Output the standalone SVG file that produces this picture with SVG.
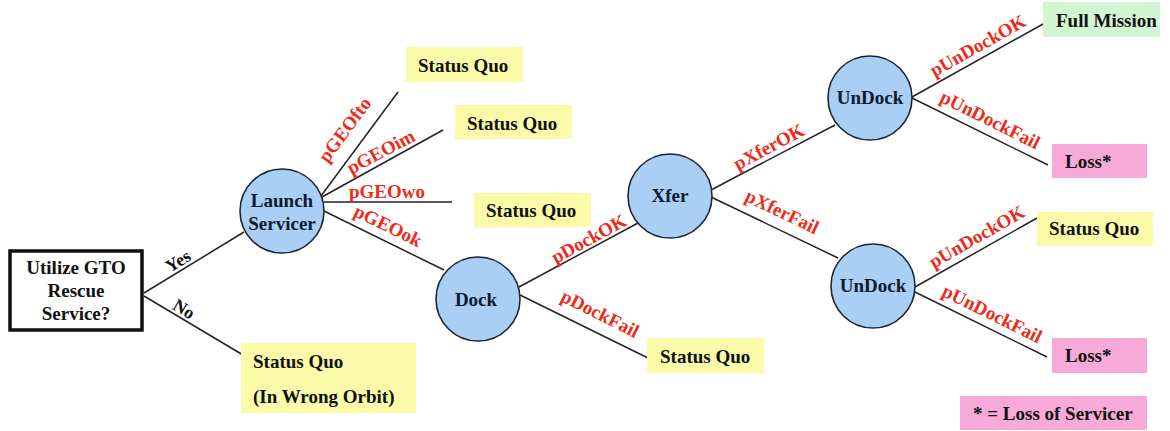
<svg xmlns="http://www.w3.org/2000/svg" width="1170" height="431" viewBox="0 0 1170 431">
<style>
text{font-family:"Liberation Serif","Times New Roman",serif;font-weight:bold;}
.t{font-size:19px;fill:#111;}
.n{font-size:19px;fill:#0d1a30;text-anchor:middle;}
.lbl{font-size:19px;fill:#ee2a1a;text-anchor:middle;}
.blk{font-size:18px;fill:#111;text-anchor:middle;}
.c{fill:#a9cff5;stroke:#1c2633;stroke-width:1.6;}
.y{fill:#fafaa8;}
.g{fill:#d2f5d2;}
.p{fill:#f7aad8;}
.e{stroke:#222;stroke-width:1.5;fill:none;}
</style>
<rect width="1170" height="431" fill="#fff"/>
<g id="connectors">
<line class="e" x1="144" y1="293" x2="244" y2="232"/>
<line class="e" x1="144" y1="296" x2="243" y2="355"/>
<line class="e" x1="321" y1="196" x2="398" y2="92"/>
<line class="e" x1="322" y1="197" x2="443" y2="130"/>
<line class="e" x1="324" y1="202" x2="452" y2="202"/>
<line class="e" x1="324" y1="211" x2="444" y2="270"/>
<line class="e" x1="519" y1="287" x2="638" y2="223"/>
<line class="e" x1="520" y1="295" x2="648" y2="358"/>
<line class="e" x1="711" y1="190" x2="835" y2="125"/>
<line class="e" x1="711" y1="197" x2="838" y2="258"/>
<line class="e" x1="912" y1="97" x2="1043" y2="24"/>
<line class="e" x1="912" y1="98" x2="1048" y2="165"/>
<line class="e" x1="915" y1="287" x2="1037" y2="218"/>
<line class="e" x1="915" y1="292" x2="1047" y2="357"/>
<g transform="translate(178,261) rotate(-31.6)"><text class="blk" x="0" y="6">Yes</text></g>
<g transform="translate(184,309) rotate(31)"><text class="blk" x="0" y="6">No</text></g>
<g transform="translate(345,130) rotate(-53.6)"><text class="lbl" x="0" y="6">pGEOfto</text></g>
<g transform="translate(381,152) rotate(-28)"><text class="lbl" x="0" y="6">pGEOim</text></g>
<text class="lbl" x="387" y="198">pGEOwo</text>
<g transform="translate(388,226) rotate(26)"><text class="lbl" x="0" y="6">pGEOok</text></g>
<g transform="translate(589,239) rotate(-28.5)"><text class="lbl" x="0" y="6">pDockOK</text></g>
<g transform="translate(600,314) rotate(26.6)"><text class="lbl" x="0" y="6">pDockFail</text></g>
<g transform="translate(769,147) rotate(-28)"><text class="lbl" x="0" y="6">pXferOK</text></g>
<g transform="translate(782,212) rotate(25.6)"><text class="lbl" x="0" y="6">pXferFail</text></g>
<g transform="translate(978,46) rotate(-29.3)"><text class="lbl" x="0" y="6">pUnDockOK</text></g>
<g transform="translate(990,120) rotate(26.4)"><text class="lbl" x="0" y="6">pUnDockFail</text></g>
<g transform="translate(977,237) rotate(-29.7)"><text class="lbl" x="0" y="6">pUnDockOK</text></g>
<g transform="translate(992,314) rotate(26.4)"><text class="lbl" x="0" y="6">pUnDockFail</text></g>
</g>
<g id="decision">
<rect x="10" y="251" width="132" height="79" fill="#fff" stroke="#111" stroke-width="3.5"/>
<text class="n" x="76" y="274" style="fill:#111">Utilize GTO</text>
<text class="n" x="76" y="297" style="fill:#111">Rescue</text>
<text class="n" x="76" y="320" style="fill:#111">Service?</text>
</g>
<g id="launch">
<circle class="c" cx="282" cy="211" r="42"/>
<text class="n" x="282" y="207">Launch</text>
<text class="n" x="282" y="230">Servicer</text>
</g>
<g id="dock">
<circle class="c" cx="478" cy="299" r="42"/>
<text class="n" x="476" y="306">Dock</text>
</g>
<g id="xfer">
<circle class="c" cx="670" cy="196" r="42"/>
<text class="n" x="670" y="202">Xfer</text>
</g>
<g id="undock1">
<circle class="c" cx="870" cy="98" r="42"/>
<text class="n" x="870" y="104">UnDock</text>
</g>
<g id="undock2">
<circle class="c" cx="873" cy="286" r="42"/>
<text class="n" x="873" y="292">UnDock</text>
</g>
<g id="sq-wrong-orbit">
<rect class="y" x="241" y="343" width="175" height="70"/>
<text class="t" x="253" y="368">Status Quo</text>
<text class="t" x="253" y="403">(In Wrong Orbit)</text>
</g>
<g id="sq-fto">
<rect class="y" x="406" y="47" width="117" height="35"/>
<text class="t" x="418" y="72">Status Quo</text>
</g>
<g id="sq-im">
<rect class="y" x="455" y="105" width="117" height="34"/>
<text class="t" x="467" y="130">Status Quo</text>
</g>
<g id="sq-wo">
<rect class="y" x="474" y="193" width="117" height="34"/>
<text class="t" x="486" y="217">Status Quo</text>
</g>
<g id="sq-dockfail">
<rect class="y" x="647" y="338" width="117" height="35"/>
<text class="t" x="660" y="363">Status Quo</text>
</g>
<g id="full-mission">
<rect class="g" x="1043" y="2" width="117" height="35"/>
<text class="t" x="1056" y="27">Full Mission</text>
</g>
<g id="loss1">
<rect class="p" x="1052" y="144" width="95" height="34"/>
<text class="t" x="1065" y="168">Loss*</text>
</g>
<g id="sq-undock2">
<rect class="y" x="1037" y="212" width="116" height="34"/>
<text class="t" x="1049" y="235">Status Quo</text>
</g>
<g id="loss2">
<rect class="p" x="1052" y="338" width="95" height="35"/>
<text class="t" x="1065" y="362">Loss*</text>
</g>
<g id="legend">
<rect class="p" x="960" y="396" width="187" height="34"/>
<text class="t" x="973" y="420">* = Loss of Servicer</text>
</g>
</svg>
